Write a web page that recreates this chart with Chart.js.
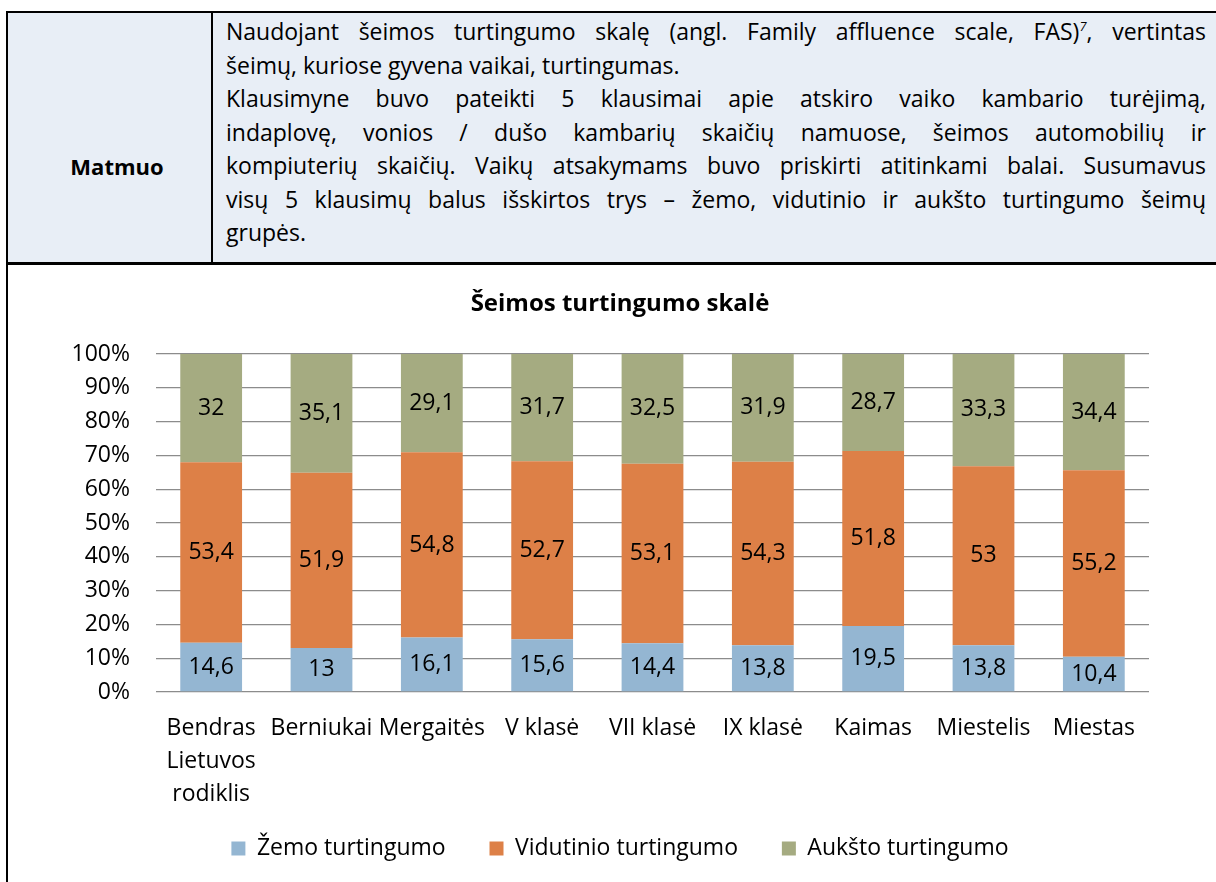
<!DOCTYPE html>
<html>
<head>
<meta charset="utf-8">
<script src="https://cdn.jsdelivr.net/npm/chart.js@4.4.1/dist/chart.umd.min.js"></script>
<style>
  body { margin: 0; background: #fff; width: 1216px; height: 882px; overflow: hidden; position: relative; font-family: "Open Sans", sans-serif; color: #000; }
  .row { position: absolute; left: 6px; top: 11px; width: 1230px; height: 254px; background: #e8eef6; border-top: 2px solid #000; border-bottom: 3px solid #000; border-left: 2px solid #000; box-sizing: border-box; }
  .divider { position: absolute; left: 211px; top: 12px; width: 2px; height: 252px; background: #000; }
  .lbl { position: absolute; left: 17px; width: 200px; top: 150px; text-align: center; font-weight: bold; font-size: 22px; line-height: 33px; }
  .txt { position: absolute; left: 226px; width: 980px; top: 15px; font-size: 23px; line-height: 33.5px; }
  .txt div { text-align: justify; text-align-last: justify; white-space: nowrap; }
  .txt div.l { text-align-last: left; }
  .txt sup { font-size: 13px; font-style: italic; line-height: 0; }
  .cell { position: absolute; left: 6px; top: 264px; width: 2px; height: 620px; background: #000; }
  #wrap { position: absolute; left: 8px; top: 266px; width: 1208px; height: 616px; }
</style>
</head>
<body>
<div class="row"></div>
<div class="divider"></div>
<div class="lbl">Matmuo</div>
<div class="txt" id="txt">
  <div>Naudojant šeimos turtingumo skalę (angl. Family affluence scale, FAS)<sup>7</sup>, vertintas</div>
  <div class="l">šeimų, kuriose gyvena vaikai, turtingumas.</div>
  <div>Klausimyne buvo pateikti 5 klausimai apie atskiro vaiko kambario turėjimą,</div>
  <div>indaplovę, vonios / dušo kambarių skaičių namuose, šeimos automobilių ir</div>
  <div>kompiuterių skaičių. Vaikų atsakymams buvo priskirti atitinkami balai. Susumavus</div>
  <div>visų 5 klausimų balus išskirtos trys – žemo, vidutinio ir aukšto turtingumo šeimų</div>
  <div class="l">grupės.</div>
</div>
<div class="cell"></div>
<div id="wrap"><canvas id="chart"></canvas></div>
<script>
const categories = [['Bendras', 'Lietuvos', 'rodiklis'], 'Berniukai', 'Mergaitės', 'V klasė', 'VII klasė', 'IX klasė', 'Kaimas', 'Miestelis', 'Miestas'];
const zemo = [14.6, 13, 16.1, 15.6, 14.4, 13.8, 19.5, 13.8, 10.4];
const vidutinio = [53.4, 51.9, 54.8, 52.7, 53.1, 54.3, 51.8, 53, 55.2];
const auksto = [32, 35.1, 29.1, 31.7, 32.5, 31.9, 28.7, 33.3, 34.4];

const FONT = '"Open Sans", sans-serif';

// shrink the paragraph font until the longest line fits the cell
(function fitText() {
    const box = document.getElementById('txt');
    let size = 23;
    const tooWide = () => [...box.children].some(d => d.scrollWidth > d.clientWidth + 0.5);
    while (tooWide() && size > 14) {
        size -= 0.25;
        box.style.fontSize = size + 'px';
    }
})();

// value labels in the middle of each segment, decimal comma
const segmentLabels = {
    id: 'segmentLabels',
    afterDatasetsDraw(chart) {
        const ctx = chart.ctx;
        ctx.save();
        ctx.font = '23px ' + FONT;
        ctx.fillStyle = '#000';
        ctx.textAlign = 'center';
        ctx.textBaseline = 'middle';
        chart.data.datasets.forEach((ds, i) => {
            chart.getDatasetMeta(i).data.forEach((bar, j) => {
                const txt = String(ds.data[j]).replace('.', ',');
                ctx.fillText(txt, bar.x, (bar.y + bar.base) / 2);
            });
        });
        ctx.restore();
    }
};

new Chart(document.getElementById('chart'), {
    type: 'bar',
    data: {
        labels: categories,
        datasets: [
            { label: 'Žemo turtingumo', data: zemo, backgroundColor: '#94b6d2' },
            { label: 'Vidutinio turtingumo', data: vidutinio, backgroundColor: '#dd8047' },
            { label: 'Aukšto turtingumo', data: auksto, backgroundColor: '#a5ab81' }
        ]
    },
    options: {
        responsive: true,
        maintainAspectRatio: false,
        animation: false,
        layout: { padding: { left: 16, right: 0, top: 0, bottom: 12 } },
        datasets: { bar: { categoryPercentage: 0.56, barPercentage: 1.0, borderWidth: 0 } },
        plugins: {
            title: {
                display: true,
                text: 'Šeimos turtingumo skalė',
                color: '#000',
                font: { family: FONT, size: 24, weight: 'bold' },
                padding: { top: 24, bottom: 35.2 }
            },
            legend: {
                position: 'bottom',
                labels: {
                    color: '#000',
                    font: { family: FONT, size: 23 },
                    boxWidth: 14,
                    boxHeight: 14,
                    padding: 20,
                    // extra gap after the first two entries
                    generateLabels(chart) {
                        const items = Chart.defaults.plugins.legend.labels.generateLabels(chart);
                        items.forEach((it, i) => { if (i < items.length - 1) it.text += '\u00a0\u00a0\u00a0\u00a0'; });
                        return items;
                    }
                }
            },
            tooltip: { enabled: false }
        },
        scales: {
            x: {
                stacked: true,
                grid: { display: false },
                border: { display: false },
                ticks: {
                    color: '#000',
                    font: { family: FONT, size: 23, lineHeight: 1.435 },
                    maxRotation: 0,
                    autoSkip: false,
                    padding: 12
                },
                afterFit(axis) { axis.height = 125; }
            },
            y: {
                stacked: true,
                min: 0,
                max: 100,
                grid: { color: '#8c8c8c', lineWidth: 1.3, drawTicks: false },
                border: { display: false },
                ticks: {
                    stepSize: 10,
                    color: '#000',
                    font: { family: FONT, size: 23 },
                    padding: 26,
                    callback: v => v + '%'
                },
                afterFit(axis) { axis.width = 132; }
            },
            // empty right-hand margin so the plot stops short of the cell edge
            yRight: {
                position: 'right',
                display: true,
                grid: { display: false },
                border: { display: false },
                ticks: { display: false },
                afterFit(axis) { axis.width = 67; }
            }
        }
    },
    plugins: [segmentLabels]
});
</script>
</body>
</html>
